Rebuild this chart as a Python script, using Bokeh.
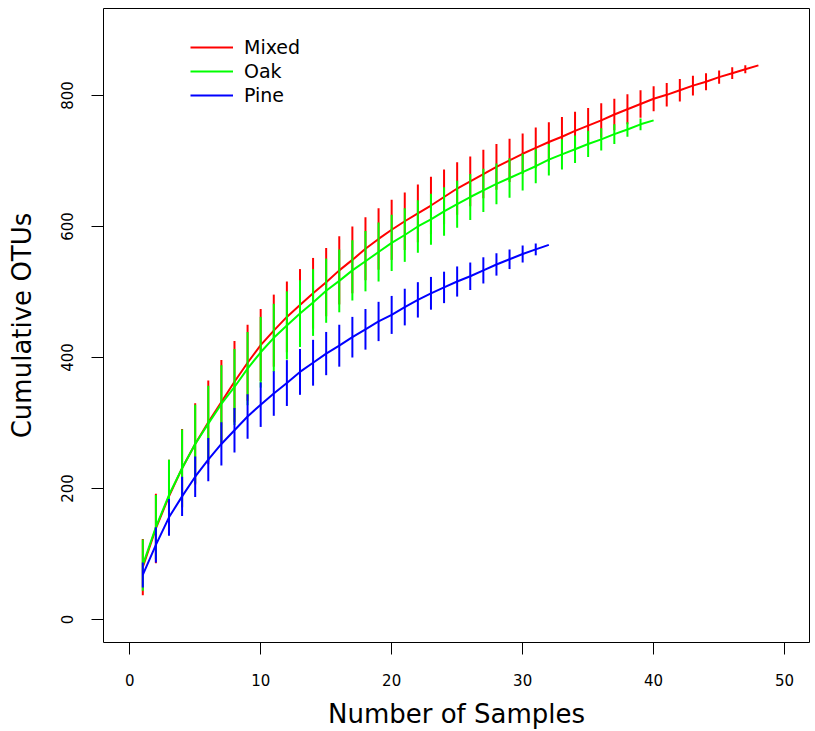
import numpy as np
from bokeh.plotting import figure
from bokeh.models import Range1d, FixedTicker, Legend, LegendItem
from bokeh.embed import file_html
from bokeh.resources import INLINE

# ---- data ----
mixed_samples = list(range(1, 49))
mixed_richness = [80, 139, 188, 231, 268, 301, 332, 363, 392, 419,
                  441, 462, 480, 498, 515, 533, 549, 566, 581, 595,
                  608, 620, 632, 645, 658, 669, 680, 691, 701, 711,
                  720, 729, 737, 746, 754, 762, 771, 779, 787, 795,
                  801, 808, 815, 821, 828, 834, 840, 846]
mixed_ci = [43, 53, 56, 60, 62, 64, 64, 62, 58, 55,
            55, 54, 55, 54, 52, 52, 51, 48, 47, 46,
            44, 44, 44, 42, 40, 38, 37, 35, 33, 31,
            31, 30, 30, 29, 27, 26, 24, 23, 21, 19,
            18, 17, 15, 13, 10, 9, 6, 0]

oak_samples = list(range(1, 41))
oak_richness = [83, 141, 190, 231, 268, 299, 329, 355, 383, 408,
                430, 449, 467, 484, 502, 517, 533, 547, 561, 575,
                587, 600, 611, 623, 634, 645, 655, 665, 674, 683,
                692, 702, 710, 718, 726, 733, 741, 748, 756, 762]
oak_ci = [39, 49, 54, 59, 60, 58, 59, 58, 56, 54,
          52, 52, 51, 51, 49, 48, 46, 46, 45, 43,
          41, 40, 39, 37, 36, 35, 33, 31, 30, 28,
          26, 24, 23, 21, 20, 17, 15, 11, 9, 0]

pine_samples = list(range(1, 33))
pine_richness = [68, 114, 156, 188, 218, 244, 268, 289, 310, 328,
                 345, 361, 378, 392, 406, 418, 431, 443, 455, 465,
                 477, 488, 498, 507, 516, 524, 533, 542, 550, 558,
                 565, 572]
pine_ci = [19, 27, 28, 30, 31, 33, 33, 34, 34, 34,
           34, 35, 35, 35, 33, 32, 31, 31, 30, 29,
           28, 27, 25, 24, 23, 21, 20, 17, 15, 13,
           9, 0]

series_names = ["Mixed", "Oak", "Pine"]
series_colors = ["#FF0000", "#00FF00", "#0000FF"]
x_ticks = [0, 10, 20, 30, 40, 50]
y_ticks = [0, 200, 400, 600, 800]

FONT = "DejaVu Sans"

p = figure(width=810, height=731, output_backend="svg", toolbar_location=None,
           x_range=Range1d(-2, 51.9), y_range=Range1d(-35.1, 932.8),
           min_border_left=103, min_border_right=1, min_border_top=8,
           min_border_bottom=89)

p.xgrid.visible = False
p.ygrid.visible = False
p.outline_line_color = "black"
p.outline_line_width = 1
p.background_fill_color = "white"
p.border_fill_color = "white"

renderers = []
data = [(mixed_samples, mixed_richness, mixed_ci),
        (oak_samples, oak_richness, oak_ci),
        (pine_samples, pine_richness, pine_ci)]
for (xs, ys, ci), col in zip(data, series_colors):
    xs = np.array(xs, dtype=float)
    ys = np.array(ys, dtype=float)
    ci = np.array(ci, dtype=float)
    p.segment(x0=xs, y0=ys - ci, x1=xs, y1=ys + ci, line_color=col, line_width=2)
    r = p.line(xs, ys, line_color=col, line_width=2)
    renderers.append(r)

legend = Legend(items=[LegendItem(label=n, renderers=[r]) for n, r in zip(series_names, renderers)],
                location=(80, 529), orientation="vertical",
                glyph_width=43, glyph_height=20, label_height=20, spacing=2,
                label_standoff=11, padding=7, margin=0,
                border_line_alpha=0, background_fill_alpha=0,
                label_text_font=FONT, label_text_font_size="19px",
                label_text_color="black")
p.add_layout(legend)

for ax in (p.xaxis[0], p.yaxis[0]):
    ax.axis_line_color = None
    ax.major_tick_in = 0
    ax.major_tick_out = 12
    ax.major_tick_line_color = "black"
    ax.minor_tick_line_color = None
    ax.major_label_text_font = FONT
    ax.major_label_text_font_size = "15px"
    ax.major_label_text_color = "black"
    ax.axis_label_text_font = FONT
    ax.axis_label_text_font_size = "26px"
    ax.axis_label_text_font_style = "normal"
    ax.axis_label_text_color = "black"

p.xaxis.ticker = FixedTicker(ticks=x_ticks)
p.yaxis.ticker = FixedTicker(ticks=y_ticks)
p.xaxis.axis_label = "Number of Samples"
p.yaxis.axis_label = "Cumulative OTUs"
p.xaxis.major_label_standoff = 19
p.xaxis.axis_label_standoff = 10
p.yaxis.major_label_standoff = 18
p.yaxis.axis_label_standoff = 22
p.yaxis.major_label_orientation = "vertical"

open("out.html", "w").write(file_html(p, INLINE))
